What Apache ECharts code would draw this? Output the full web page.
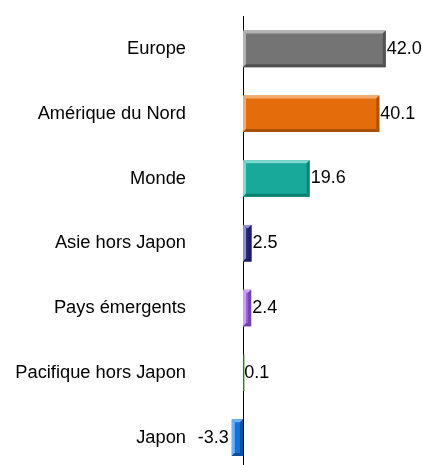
<!DOCTYPE html>
<html><head><meta charset="utf-8">
<script src="https://cdn.jsdelivr.net/npm/echarts@6/dist/echarts.min.js"></script>
<style>html,body{margin:0;padding:0;background:#fff}#c{width:422px;height:465px}</style>
</head><body><div id="c"></div>
<script>
const categories = ['Europe', 'Amérique du Nord', 'Monde', 'Asie hors Japon', 'Pays émergents', 'Pacifique hors Japon', 'Japon'];
const values = [42.0, 40.1, 19.6, 2.5, 2.4, 0.1, -3.3];
const faceColors = ['#747474', '#e46c0a', '#18a99b', '#2a2a80', '#9a5fd8', '#8fca7d', '#1470d6'];
const lightColors = ['#b4b4b4', '#f2ab72', '#80d8cf', '#9292cf', '#c9a6f0', '#a8d898', '#70b0f5'];
const darkColors = ['#505050', '#a84f06', '#0e7d72', '#1c1c5e', '#6f3fae', '#6fa85e', '#0b4e9c'];

const chart = echarts.init(document.getElementById('c'), null, {renderer: 'canvas'});
const FONT = 'Liberation Sans, Arial, sans-serif';

function renderItem(params, api) {
  const idx = params.dataIndex;
  const v = api.value(0);
  const cat = api.value(1);
  const p0 = api.coord([0, cat]);
  const p1 = api.coord([v, cat]);
  const band = api.size([0, 1])[1];
  const h = band * 0.565;
  const x0 = Math.min(p0[0], p1[0]);
  const x1 = Math.max(p0[0], p1[0]);
  const y0 = p0[1] - h / 2;
  const y1 = p0[1] + h / 2;
  const w = x1 - x0;
  const children = [];
  if (w < 2) {
    children.push({type: 'rect', z2: 10, shape: {x: x0 + 0.5, y: y0, width: Math.max(w, 1.3), height: h}, style: {fill: faceColors[idx]}});
  } else {
    const b = Math.min(3, w / 2.5);
    children.push({type: 'rect', shape: {x: x0, y: y0, width: w, height: h}, style: {fill: faceColors[idx]}});
    children.push({type: 'polygon', shape: {points: [[x0, y0], [x1, y0], [x1 - b, y0 + b], [x0 + b, y0 + b]]}, style: {fill: lightColors[idx]}});
    children.push({type: 'polygon', shape: {points: [[x0, y0], [x0 + b, y0 + b], [x0 + b, y1 - b], [x0, y1]]}, style: {fill: lightColors[idx]}});
    children.push({type: 'polygon', shape: {points: [[x0, y1], [x0 + b, y1 - b], [x1 - b, y1 - b], [x1, y1]]}, style: {fill: darkColors[idx]}});
    children.push({type: 'polygon', shape: {points: [[x1, y0], [x1, y1], [x1 - b, y1 - b], [x1 - b, y0 + b]]}, style: {fill: darkColors[idx], opacity: 0.9}});
  }
  const neg = v < 0;
  children.push({
    type: 'text',
    style: {
      text: v.toFixed(1),
      x: neg ? x0 - 3 : x1 + 1,
      y: p0[1],
      align: neg ? 'right' : 'left',
      verticalAlign: 'middle',
      fill: '#000',
      font: '18px ' + FONT
    }
  });
  return {type: 'group', children: children};
}

chart.setOption({
  animation: false,
  backgroundColor: '#fff',
  grid: {left: 209, right: 9, top: 16.5, bottom: -5, containLabel: false, outerBoundsMode: 'none'},
  xAxis: {
    type: 'value', min: -10, max: 50,
    show: false,
    splitLine: {show: false}
  },
  yAxis: {
    type: 'category',
    data: categories,
    inverse: true,
    axisLine: {show: true, onZero: true, lineStyle: {color: '#000', width: 1}},
    axisTick: {show: false},
    axisLabel: {margin: 23, color: '#000', fontSize: 18.3, fontFamily: FONT},
    splitLine: {show: false}
  },
  series: [{
    type: 'custom',
    renderItem: renderItem,
    clip: false,
    z: 5,
    encode: {x: 0, y: 1},
    data: values.map((v, i) => [v, i])
  }]
});
</script>
</body></html>
